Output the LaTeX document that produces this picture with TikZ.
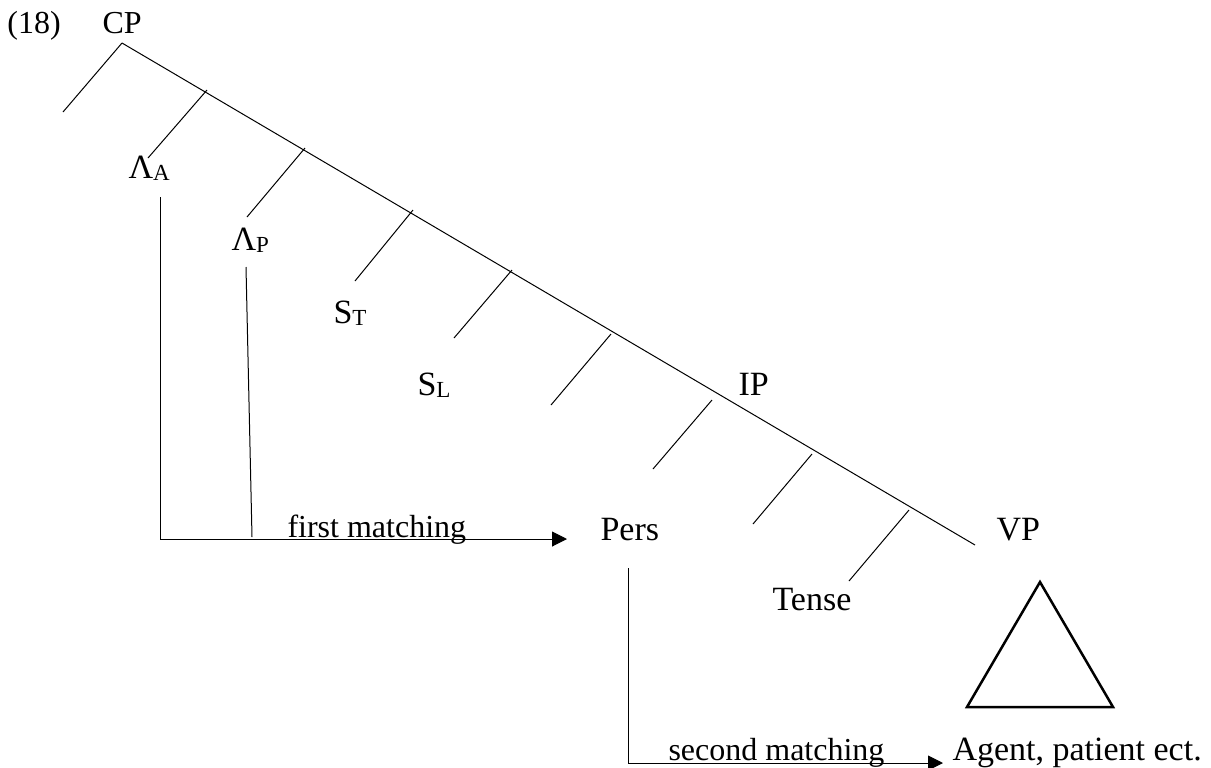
\documentclass[tikz,border=0pt]{standalone}
\usepackage{fontspec}
\setmainfont{Liberation Serif}
\usetikzlibrary{arrows.meta}
\newcommand{\lsub}[1]{\raisebox{-1.2pt}{\fontsize{11.5}{12}\selectfont #1}}
\begin{document}
\begin{tikzpicture}[x=0.5pt,y=-0.5pt,line width=0.5pt,>={Triangle[length=7.5pt,width=7.5pt]},
        lbl/.style={anchor=base west,inner sep=0pt,font=\fontsize{17}{20}\selectfont},
        small/.style={lbl,font=\fontsize{16}{19}\selectfont},
        match/.style={lbl,font=\fontsize{16}{19}\selectfont},
        tri/.style={line width=1.25pt}]
        \useasboundingbox (0,0) rectangle (1211,767);
        \node[small] (ex) at (7,33) {(18)};
        \node[small] (cp) at (102,33) {CP};
        \node[lbl] (lama) at (128,178) {Λ\lsub{A}};
        \node[lbl] (lamp) at (231,250) {Λ\lsub{P}};
        \node[lbl] (st) at (333,323) {S\lsub{T}};
        \node[lbl] (sl) at (417,395) {S\lsub{L}};
        \node[lbl] (ip) at (738,395) {IP};
        \node[lbl] (pers) at (600,540) {Pers};
        \node[lbl] (vp) at (996,540) {VP};
        \node[lbl] (tense) at (772,610) {Tense};
        \node[match] (first) at (287,537) {first matching};
        \node[match] (second) at (668,760) {second matching};
        \node[lbl] (agent) at (952,760) {Agent, patient ect.};
        \coordinate (spine1) at (122,43);
        \coordinate (spine2) at (975,545);
        \draw (spine1) -- (spine2);
        \foreach \x/\y/\u/\v [count=\i] in {122/43/63/112,207/90/148/158,305/148/247/217,413/210/355/281,512/270/454/338,611/334/551/405,712/400/653/469,812/454/753/524,909/510/849/581}
        {
        \coordinate (b\i) at (\x,\y);
        \coordinate (e\i) at (\u,\v);
        \draw (b\i) -- (e\i);
        }
        \coordinate (la) at (160,197);
        \coordinate (fm) at (567,539);
        \draw [->] (la) |- (fm);
        \coordinate (lp1) at (246,267);
        \coordinate (lp2) at (252,537);
        \draw (lp1) -- (lp2);
        \coordinate (pe) at (628,568);
        \coordinate (sm) at (943,763);
        \draw [->] (pe) |- (sm);
        \coordinate (apex) at (1040,582);
        \coordinate (br) at (1113,707);
        \coordinate (bl) at (967,707);
        \draw [tri] (apex) -- (br) -- (bl) -- cycle;
\end{tikzpicture}
\end{document}
